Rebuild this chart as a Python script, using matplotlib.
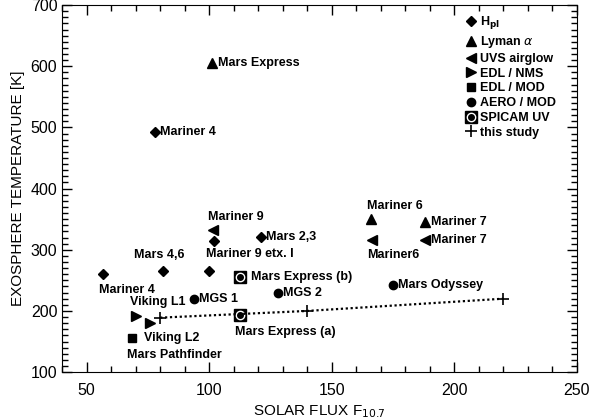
import matplotlib
matplotlib.use("Agg")
import matplotlib.pyplot as plt
from matplotlib.ticker import MultipleLocator

# H_pl (diamonds)
hpl_x = [56.5, 81, 100, 102, 121, 78]
hpl_y = [260, 265, 265, 314, 321, 493]
# Lyman alpha (up triangles)
lya_x = [101, 166, 188]
lya_y = [605, 351, 346]
# UVS airglow (left triangles)
uvs_x = [101.5, 166.5, 188]
uvs_y = [332, 316, 316]
# EDL / NMS (right triangles)
nms_x = [70, 76]
nms_y = [192, 181]
# EDL / MOD (square)
mod_x = [68.7]
mod_y = [156]
# AERO / MOD (circles)
aero_x = [94, 128, 175]
aero_y = [219, 230, 243]
# SPICAM UV
spicam_x = [112.5, 112.5]
spicam_y = [193, 255]
# this study
study_x = [80, 140, 220]
study_y = [189, 200, 220]

# (text, x, y, dx px, dy px, ha, va)
labels = [
    ("Mars Express", 101, 605, 6, 0, "left", "center"),
    ("Mariner 4", 78, 493, 5, 0, "left", "center"),
    ("Mariner 9", 101.5, 332, -5, 13, "left", "center"),
    ("Mars 2,3", 121, 321, 5, 0, "left", "center"),
    ("Mariner 9 etx. I", 102, 314, -8, -13, "left", "center"),
    ("Mars 4,6", 81, 265, -3, 16, "center", "center"),
    ("Mariner 4", 56.5, 260, -4, -16, "left", "center"),
    ("Viking L1", 70, 192, -6, 14, "left", "center"),
    ("MGS 1", 94, 219, 5, 0, "left", "center"),
    ("MGS 2", 128, 230, 5, 0, "left", "center"),
    ("Mars Express (b)", 112.5, 255, 11, 0, "left", "center"),
    ("Mars Express (a)", 112.5, 193, -5, -17, "left", "center"),
    ("Viking L2", 68.7, 156, 12, 0, "left", "center"),
    ("Mars Pathfinder", 68.7, 156, -5, -17, "left", "center"),
    ("Mariner 6", 166, 351, -4, 13, "left", "center"),
    ("Mariner 7", 188, 346, 6, 0, "left", "center"),
    ("Mariner 7", 188, 316, 6, 0, "left", "center"),
    ("Mariner6", 166.5, 316, -5, -15, "left", "center"),
    ("Mars Odyssey", 175, 243, 5, 0, "left", "center"),
]

plt.rcParams["font.family"] = "Liberation Sans"
fig = plt.figure(figsize=(5.92, 4.2), dpi=100)
ax = fig.add_axes([0.105, 0.114, 0.869, 0.874])

h1, = ax.plot(hpl_x, hpl_y, "D", color="black", ms=5.5, ls="none")
h2, = ax.plot(lya_x, lya_y, "^", color="black", ms=7.5, ls="none")
h3, = ax.plot(uvs_x, uvs_y, "<", color="black", ms=7.5, ls="none")
h4, = ax.plot(nms_x, nms_y, ">", color="black", ms=7.5, ls="none")
h5, = ax.plot(mod_x, mod_y, "s", color="black", ms=6, ls="none")
h6, = ax.plot(aero_x, aero_y, "o", color="black", ms=6, ls="none")
s1, = ax.plot(spicam_x, spicam_y, "s", color="black", ms=8, ls="none")
s2, = ax.plot(spicam_x, spicam_y, "o", color="white", ms=6, ls="none")
s3, = ax.plot(spicam_x, spicam_y, "o", color="black", ms=4, ls="none")
ax.plot(study_x, study_y, ls=(0, (1, 1.2)), color="black", lw=1.6)
h8, = ax.plot(study_x, study_y, "+", color="black", ms=8, mew=1.2, ls="none")

for t, x, y, dx, dy, ha, va in labels:
    ax.annotate(t, (x, y), xytext=(dx, dy), textcoords="offset pixels",
                ha=ha, va=va, fontsize=9, fontweight="bold")

leg = ax.legend([h1, h2, h3, h4, h5, h6, (s1, s2, s3), h8],
                [r"H$_{\mathbf{pl}}$", r"Lyman $\alpha$", "UVS airglow", "EDL / NMS",
                 "EDL / MOD", "AERO / MOD", "SPICAM UV", "this study"],
                loc="upper right", bbox_to_anchor=(0.975, 0.995), frameon=False,
                handlelength=0.8, handletextpad=0.3, labelspacing=0.22,
                borderaxespad=0.2, prop={"weight": "bold", "size": 9})

ax.set_xlim(40, 250)
ax.set_ylim(100, 700)
ax.xaxis.set_major_locator(MultipleLocator(50))
ax.xaxis.set_minor_locator(MultipleLocator(10))
ax.yaxis.set_major_locator(MultipleLocator(100))
ax.yaxis.set_minor_locator(MultipleLocator(10))
ax.tick_params(which="both", direction="in", top=True, right=True, labelsize=11.5)
ax.tick_params(which="major", length=7, width=1)
ax.tick_params(which="minor", length=4, width=1)
ax.tick_params(axis="x", pad=8)
ax.set_xlabel(r"SOLAR FLUX F$_{10.7}$", fontsize=11)
ax.set_ylabel("EXOSPHERE TEMPERATURE [K]", fontsize=11, labelpad=4)

fig.savefig("out.png", dpi=100)
